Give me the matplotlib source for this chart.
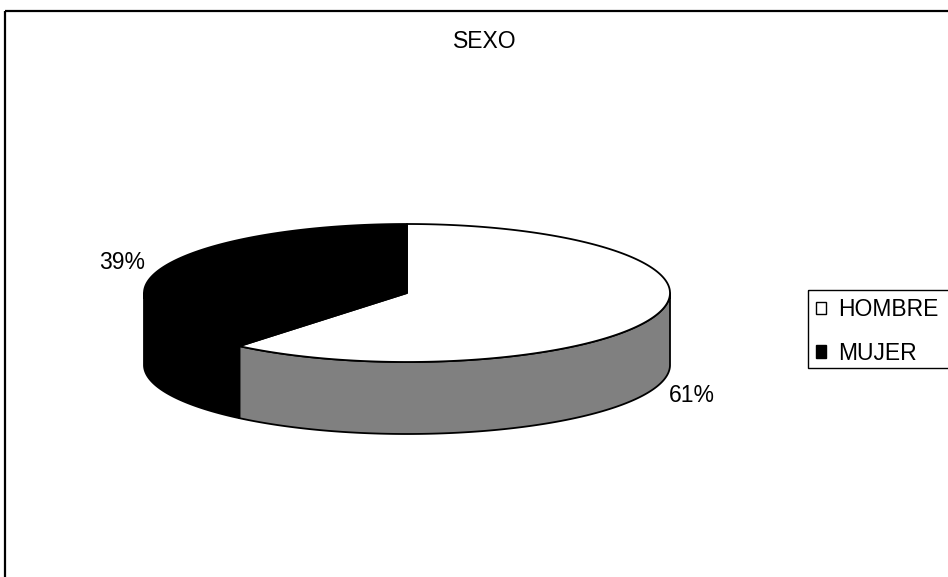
import numpy as np
import matplotlib
matplotlib.use("Agg")
import matplotlib.pyplot as plt
from matplotlib.patches import Polygon, Patch, Rectangle

labels = ["HOMBRE", "MUJER"]
values = [61, 39]
top_colors = ["white", "black"]
side_colors = ["#808080", "black"]
title = "SEXO"

# pie layout in pixel units
cx, cy = 407, 293
rx, ry = 263, 69
depth = 72
start = 90.0

plt.rcParams["font.family"] = ["Liberation Sans", "DejaVu Sans"]

fig = plt.figure(figsize=(9.48, 5.77), dpi=100)
ax = fig.add_axes([0, 0, 1, 1])
ax.set_xlim(0, 948)
ax.set_ylim(577, 0)
ax.axis("off")

# outer frame (runs off right and bottom like the source)
ax.add_patch(Rectangle((5, 11), 1000, 1000, fill=False, edgecolor="black",
                       linewidth=1.6, clip_on=True))


def pt(theta, dz=0.0):
    t = np.radians(theta)
    return cx + rx * np.cos(t), cy - ry * np.sin(t) + dz


total = sum(values)
spans = []
a0 = start
for v in values:
    a1 = a0 - 360.0 * v / total
    spans.append((a1, a0))
    a0 = a1

# side faces (front half only: -180..0 degrees)
for (a1, a0), sc in zip(spans, side_colors):
    for k in (-360, 0, 360):
        lo = max(a1, -180 + k)
        hi = min(a0, 0 + k)
        if hi <= lo:
            continue
        th = np.linspace(lo, hi, 200)
        top = [pt(t) for t in th]
        bot = [pt(t, depth) for t in th[::-1]]
        ax.add_patch(Polygon(top + bot, closed=True, facecolor=sc,
                             edgecolor="black", linewidth=1.3, joinstyle="round"))

# top faces
for (a1, a0), tc in zip(spans, top_colors):
    th = np.linspace(a0, a1, 300)
    poly = [(cx, cy)] + [pt(t) for t in th]
    ax.add_patch(Polygon(poly, closed=True, facecolor=tc,
                         edgecolor="black", linewidth=1.3, joinstyle="round"))

# percentage labels
for (a1, a0), v in zip(spans, values):
    mid = (a0 + a1) / 2
    t = np.radians(mid)
    x = cx + 1.15 * rx * np.cos(t)
    y = cy - 1.32 * ry * np.sin(t)
    if np.sin(t) < 0:
        y += depth
    ax.text(x, y, f"{round(100 * v / total)}%", fontsize=16.5,
            ha="center", va="center")

ax.text(485, 42, title, fontsize=16.5, ha="center", va="center")

# legend box runs past the right edge in the source
ax.add_patch(Rectangle((808, 290), 200, 78, fill=False, edgecolor="black",
                       linewidth=1.0))
handles = [Patch(facecolor=c, edgecolor="black", linewidth=1.0) for c in top_colors]
leg = fig.legend(handles, labels, loc="upper left",
                 bbox_to_anchor=(808 / 948, 1 - 290 / 577),
                 fontsize=16.5, frameon=False,
                 handlelength=0.45, handleheight=0.45,
                 handletextpad=0.5, labelspacing=0.9, borderpad=0.35,
                 borderaxespad=0)

fig.savefig("out.png", dpi=100)
